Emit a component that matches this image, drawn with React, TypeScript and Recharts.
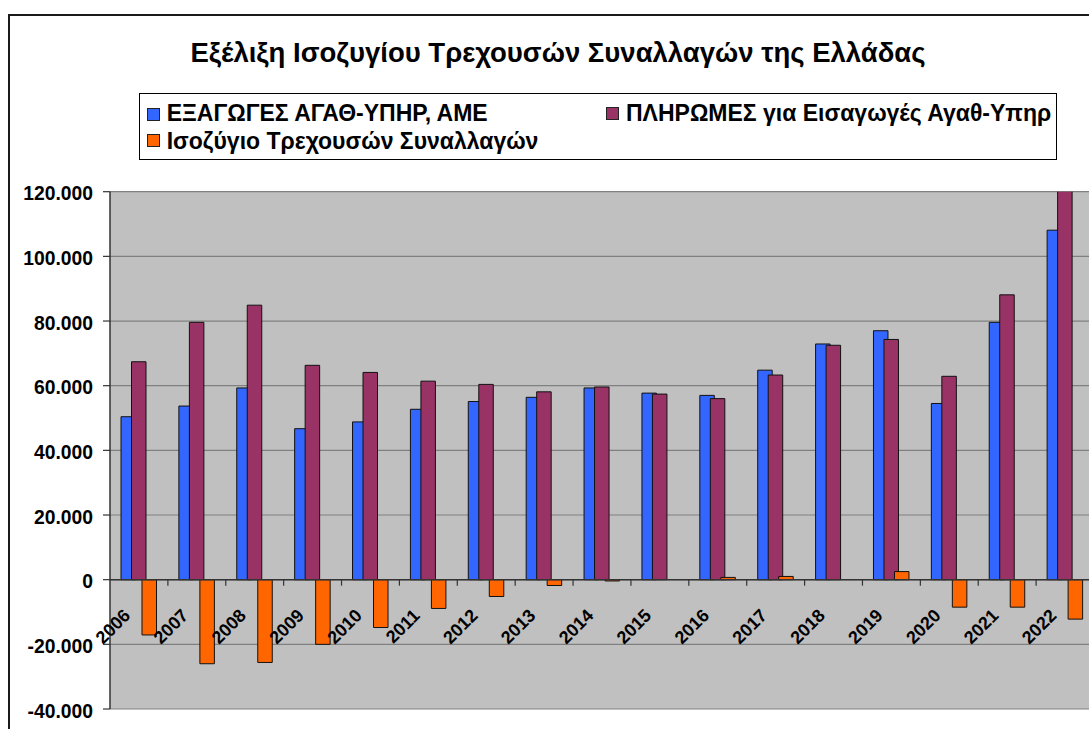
import React from 'react';
import { BarChart, Bar, XAxis, YAxis, CartesianGrid, ReferenceLine } from 'recharts';

const CATEGORIES = ['2006', '2007', '2008', '2009', '2010', '2011', '2012', '2013', '2014', '2015', '2016', '2017', '2018', '2019', '2020', '2021', '2022'];
const EXPORTS = [50400, 53700, 59300, 46700, 48800, 52700, 55100, 56400, 59300, 57700, 57000, 64800, 72900, 77000, 54500, 79600, 108100];
const PAYMENTS = [67400, 79600, 84900, 66300, 64100, 61400, 60400, 58100, 59600, 57400, 56000, 63300, 72500, 74300, 62900, 88100, 120800];
const BALANCE = [-17100, -26000, -25600, -20000, -14800, -8900, -5200, -1800, -400, 0, 700, 1000, 0, 2500, -8500, -8500, -12200];
const Y_TICKS = [-40000, -20000, 0, 20000, 40000, 60000, 80000, 100000, 120000];

const TITLE = 'Εξέλιξη Ισοζυγίου Τρεχουσών Συναλλαγών της Ελλάδας';
const SERIES = [
  { key: 'exports', name: 'ΕΞΑΓΩΓΕΣ ΑΓΑΘ-ΥΠΗΡ, ΑΜΕ', color: '#3366FF' },
  { key: 'payments', name: 'ΠΛΗΡΩΜΕΣ για Εισαγωγές Αγαθ-Υπηρ', color: '#993366' },
  { key: 'balance', name: 'Ισοζύγιο Τρεχουσών Συναλλαγών', color: '#FF6600' },
];

const DATA = CATEGORIES.map((year, i) => ({
  year,
  exports: EXPORTS[i],
  payments: PAYMENTS[i],
  balance: BALANCE[i],
}));

const FONT = '"Liberation Sans", Arial, sans-serif';
const CHART_W = 1110;
const CHART_H = 729;
const MARGIN = { top: 191.7, right: 16, bottom: 19, left: 0 };
const Y_AXIS_W = 110;
const X_AXIS_H = 1;
const Y_MIN = Y_TICKS[0];
const Y_MAX = Y_TICKS[Y_TICKS.length - 1];
const PLOT_TOP = MARGIN.top;
const PLOT_H = CHART_H - MARGIN.top - MARGIN.bottom - X_AXIS_H;
const PLOT_W = CHART_W - MARGIN.left - MARGIN.right - Y_AXIS_W;
const ZERO_Y = PLOT_TOP + (PLOT_H * (Y_MAX - 0)) / (Y_MAX - Y_MIN);
const BAND = PLOT_W / CATEGORIES.length;

const fmt = (v: number) => {
  const s = String(Math.abs(v)).replace(/\B(?=(\d{3})+(?!\d))/g, '.');
  return v < 0 ? '-' + s : s;
};

const XTick = (props: any) => {
  const { x, payload } = props;
  const ax = x - 7.5;
  const ay = ZERO_Y + 37;
  return (
    <g>
      <line x1={x + BAND / 2} x2={x + BAND / 2} y1={ZERO_Y} y2={ZERO_Y + 6} stroke="#333" strokeWidth={1.2} />
      <text
        x={ax}
        y={ay}
        textAnchor="end"
        transform={`rotate(-45 ${ax} ${ay})`}
        fontFamily={FONT}
        fontWeight="bold"
        fontSize={18}
        fill="#000"
      >
        {payload.value}
      </text>
    </g>
  );
};

const YTick = (props: any) => {
  const { x, y, payload } = props;
  return (
    <text x={x} y={y + 8.5} textAnchor="end" fontFamily={FONT} fontWeight="bold" fontSize={19.3} fill="#000">
      {fmt(payload.value)}
    </text>
  );
};

const LEGEND_POS = [
  { sq: { left: 7, top: 14 }, tx: { left: 26.7, top: 7.2 } },
  { sq: { left: 466, top: 13 }, tx: { left: 486, top: 7.2 } },
  { sq: { left: 7, top: 40 }, tx: { left: 26.7, top: 34.5 } },
];

export default function App() {
  return (
    <div style={{ position: 'absolute', left: 0, top: 0, width: 1089, height: 729, overflow: 'hidden', background: '#fff' }}>
      <div style={{ position: 'absolute', left: 8, top: 13.5, width: 1100, height: 2, background: '#1a1a1a' }} />
      <div style={{ position: 'absolute', left: 8, top: 13.5, width: 2, height: 720, background: '#1a1a1a' }} />
      <div style={{ position: 'absolute', left: 0, top: 0 }}>
        <BarChart width={CHART_W} height={CHART_H} data={DATA} margin={MARGIN} barGap={-4} barSize={14.5}>
          <CartesianGrid vertical={false} stroke="#808080" strokeWidth={1.2} fill="#C0C0C0" fillOpacity={1} />
          <YAxis
            type="number"
            domain={[Y_MIN, Y_MAX]}
            ticks={Y_TICKS}
            interval={0}
            allowDataOverflow
            width={Y_AXIS_W}
            tickSize={7}
            tickMargin={10}
            tick={<YTick />}
            axisLine={{ stroke: '#333', strokeWidth: 1.5 }}
            tickLine={{ stroke: '#333', strokeWidth: 1.2 }}
          />
          {SERIES.map((s) => (
            <Bar key={s.key} dataKey={s.key} name={s.name} fill={s.color} stroke="#111" strokeWidth={1} isAnimationActive={false} />
          ))}
          <ReferenceLine y={0} stroke="#333" strokeWidth={1.5} />
          <XAxis
            dataKey="year"
            height={X_AXIS_H}
            interval={0}
            axisLine={false}
            tickLine={false}
            tick={<XTick />}
          />
        </BarChart>
      </div>
      <div
        style={{
          position: 'absolute',
          left: 0,
          top: 36.5,
          width: 1116,
          textAlign: 'center',
          fontFamily: FONT,
          fontWeight: 'bold',
          fontSize: 27.5,
          lineHeight: '32px',
          color: '#000',
          whiteSpace: 'nowrap',
        }}
      >
        {TITLE}
      </div>
      <div
        style={{
          position: 'absolute',
          left: 139,
          top: 93,
          width: 918,
          height: 67,
          boxSizing: 'border-box',
          border: '1px solid #000',
          background: '#fff',
        }}
      >
        {SERIES.map((s, i) => (
          <React.Fragment key={s.key}>
            <div
              style={{
                position: 'absolute',
                left: LEGEND_POS[i].sq.left,
                top: LEGEND_POS[i].sq.top,
                width: 13,
                height: 13,
                boxSizing: 'border-box',
                background: s.color,
                border: '1px solid #222',
              }}
            />
            <div
              style={{
                position: 'absolute',
                left: LEGEND_POS[i].tx.left,
                top: LEGEND_POS[i].tx.top,
                fontFamily: FONT,
                fontWeight: 'bold',
                fontSize: 23,
                lineHeight: '25px',
                whiteSpace: 'nowrap',
                color: '#000',
              }}
            >
              {s.name}
            </div>
          </React.Fragment>
        ))}
      </div>
    </div>
  );
}
